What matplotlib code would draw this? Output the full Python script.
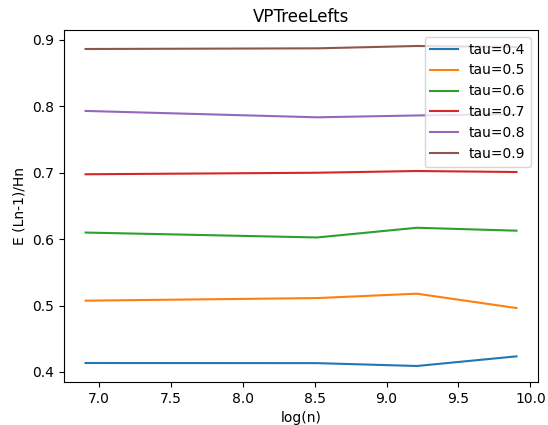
import numpy as np
import matplotlib
matplotlib.use("Agg")
import matplotlib.pyplot as plt

# sample sizes and measured ratios for each tau
sizes = [1000, 5000, 10000, 20000]
taus = [0.4, 0.5, 0.6, 0.7, 0.8, 0.9]
ratio_04 = [0.4135, 0.4133, 0.4090, 0.4235]
ratio_05 = [0.5073, 0.5112, 0.5178, 0.4962]
ratio_06 = [0.6098, 0.6024, 0.6170, 0.6126]
ratio_07 = [0.6975, 0.6998, 0.7024, 0.7009]
ratio_08 = [0.7928, 0.7832, 0.7860, 0.7880]
ratio_09 = [0.8860, 0.8870, 0.8905, 0.8890]
ratios = [ratio_04, ratio_05, ratio_06, ratio_07, ratio_08, ratio_09]

x = np.log(sizes)

fig = plt.figure(figsize=(5.48, 4.25), dpi=100)
ax = fig.add_axes([0.1168, 0.1012, 0.865, 0.8282])
for tau, r in zip(taus, ratios):
    ax.plot(x, r, label=f"tau={tau}")

ax.set_title("VPTreeLefts")
ax.set_xlabel("log(n)")
ax.set_ylabel("E (Ln-1)/Hn")
ax.legend(loc="upper right")
fig.savefig("out.png", dpi=100)
